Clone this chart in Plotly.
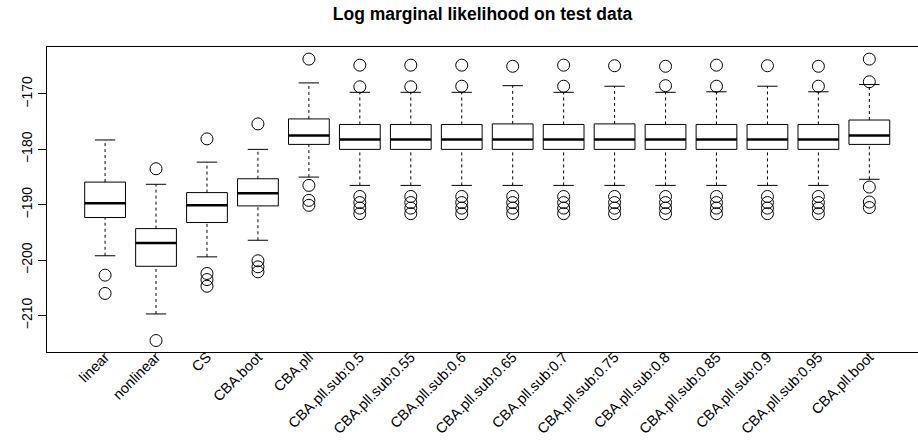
import plotly.graph_objects as go

categories = ["linear", "nonlinear", "CS", "CBA.boot", "CBA.pll",
              "CBA.pll.sub:0.5", "CBA.pll.sub:0.55", "CBA.pll.sub:0.6",
              "CBA.pll.sub:0.65", "CBA.pll.sub:0.7", "CBA.pll.sub:0.75",
              "CBA.pll.sub:0.8", "CBA.pll.sub:0.85", "CBA.pll.sub:0.9",
              "CBA.pll.sub:0.95", "CBA.pll.boot"]
lower_whisker = [-199.2, -209.7, -199.4, -196.4, -185.0, -186.5, -186.5, -186.5,
                 -186.5, -186.5, -186.5, -186.5, -186.5, -186.5, -186.5, -185.4]
q1 = [-192.3, -201.1, -193.2, -190.2, -179.1, -180.0, -180.0, -180.0,
      -180.0, -180.0, -180.0, -180.0, -180.0, -180.0, -180.0, -179.1]
median = [-189.7, -196.9, -190.1, -187.9, -177.5, -178.2, -178.2, -178.2,
          -178.2, -178.2, -178.2, -178.2, -178.2, -178.2, -178.2, -177.5]
q3 = [-185.9, -194.3, -187.8, -185.3, -174.5, -175.5, -175.5, -175.5,
      -175.4, -175.5, -175.4, -175.5, -175.5, -175.5, -175.5, -174.7]
upper_whisker = [-178.3, -186.3, -182.3, -180.0, -168.0, -169.7, -169.7, -169.7,
                 -168.5, -169.7, -168.6, -169.7, -169.6, -168.6, -169.6, -168.3]
outliers = [
    [-202.7, -206.0],
    [-183.5, -214.5],
    [-178.1, -202.4, -203.5, -204.7],
    [-175.4, -200.1, -201.2, -202.1],
    [-163.7, -186.5, -189.2, -190.1],
    [-164.8, -168.7, -188.5, -189.6, -190.6, -191.6],
    [-164.8, -168.7, -188.5, -189.6, -190.6, -191.6],
    [-164.8, -168.6, -188.5, -189.6, -190.6, -191.6],
    [-165.0, -188.5, -189.6, -190.6, -191.6],
    [-164.8, -168.6, -188.5, -189.6, -190.6, -191.6],
    [-164.9, -188.5, -189.6, -190.6, -191.6],
    [-165.0, -168.5, -188.5, -189.6, -190.6, -191.6],
    [-164.8, -168.6, -188.5, -189.6, -190.6, -191.6],
    [-164.9, -188.5, -189.6, -190.6, -191.6],
    [-165.0, -168.6, -188.5, -189.6, -190.6, -191.6],
    [-163.7, -167.8, -186.8, -189.5, -190.5],
]
y_ticks = [-210, -200, -190, -180, -170]

BOXW = 0.4   # half box width (boxwex 0.8)
STAPW = 0.2  # half staple width

box_x, box_y = [], []
med_x, med_y = [], []
wh_x, wh_y = [], []
st_x, st_y = [], []
out_x, out_y = [], []
for i in range(len(categories)):
    x = i + 1
    box_x += [x - BOXW, x + BOXW, x + BOXW, x - BOXW, x - BOXW, None]
    box_y += [q1[i], q1[i], q3[i], q3[i], q1[i], None]
    med_x += [x - BOXW, x + BOXW, None]
    med_y += [median[i], median[i], None]
    wh_x += [x, x, None, x, x, None]
    wh_y += [lower_whisker[i], q1[i], None, q3[i], upper_whisker[i], None]
    st_x += [x - STAPW, x + STAPW, None, x - STAPW, x + STAPW, None]
    st_y += [lower_whisker[i], lower_whisker[i], None, upper_whisker[i], upper_whisker[i], None]
    for v in outliers[i]:
        out_x.append(x)
        out_y.append(v)

fig = go.Figure()
fig.add_trace(go.Scatter(x=wh_x, y=wh_y, mode="lines",
                         line=dict(color="black", width=1, dash="3px,3px"),
                         hoverinfo="skip", showlegend=False))
fig.add_trace(go.Scatter(x=st_x, y=st_y, mode="lines",
                         line=dict(color="black", width=1),
                         hoverinfo="skip", showlegend=False))
fig.add_trace(go.Scatter(x=box_x, y=box_y, mode="lines",
                         line=dict(color="black", width=1),
                         hoverinfo="skip", showlegend=False))
fig.add_trace(go.Scatter(x=med_x, y=med_y, mode="lines",
                         line=dict(color="black", width=2.5),
                         hoverinfo="skip", showlegend=False))
fig.add_trace(go.Scatter(x=out_x, y=out_y, mode="markers",
                         marker=dict(symbol="circle-open", size=12,
                                     color="black", line=dict(width=1)),
                         hoverinfo="skip", showlegend=False))

fig.update_layout(
    width=918, height=440,
    margin=dict(l=47, r=0, t=47, b=88, autoexpand=False),
    paper_bgcolor="white", plot_bgcolor="white",
    font=dict(family="Liberation Sans, Arial, sans-serif", size=14, color="black"),
    title=dict(text="<b>Log marginal likelihood on test data</b>",
               x=0.5, xref="paper", xanchor="center",
               y=1 - 14 / 440, yanchor="middle", yref="container",
               font=dict(size=17.5)),
    showlegend=False,
    hovermode=False,
)
fig.update_xaxes(
    range=[-0.14, 16.955], showgrid=False, zeroline=False, automargin=False,
    tickmode="array", tickvals=list(range(1, len(categories) + 1)),
    ticktext=categories, tickangle=-45, ticks="", ticklabelstandoff=-10,
    showline=True, linecolor="black", linewidth=1, mirror=True,
    tickfont=dict(size=14.5),
)
fig.update_yaxes(
    range=[-216.57, -161.52], showgrid=False, zeroline=False, automargin=False,
    tickmode="array", tickvals=y_ticks, ticktext=[f"\u2212{abs(v)}" for v in y_ticks],
    tickangle=-90, ticks="outside", ticklen=8, tickcolor="black", tickwidth=1,
    showline=True, linecolor="black", linewidth=1, mirror=False,
    tickfont=dict(size=14),
)

fig.write_html("out.html", config={"displayModeBar": False},
               post_script="document.body.style.margin='0';document.body.style.overflow='hidden';")
